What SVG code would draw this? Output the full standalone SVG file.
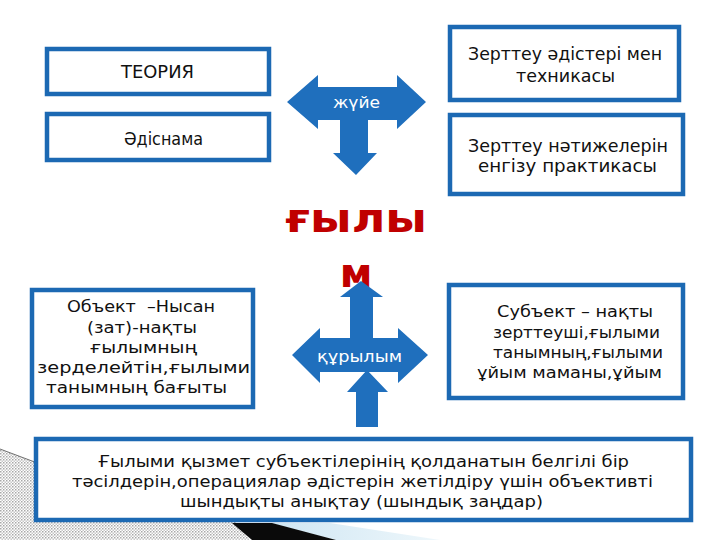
<svg xmlns="http://www.w3.org/2000/svg" width="720" height="540" viewBox="0 0 720 540">
<defs>
<pattern id="dots" width="3" height="3" patternUnits="userSpaceOnUse">
<rect width="3" height="3" fill="#ffffff"/>
<rect width="1.5" height="1.5" fill="#a8a8a8"/>
<rect x="1.5" y="1.5" width="1.5" height="1.5" fill="#c8c8c8"/>
</pattern>
<linearGradient id="lb" x1="0" y1="0" x2="1" y2="0">
<stop offset="0" stop-color="#cfe6f3"/>
<stop offset="1" stop-color="#eef7fb"/>
</linearGradient>
</defs>
<style>
.box{fill:#ffffff;stroke:#1c69b3;stroke-width:4.5}
.t{font-family:"DejaVu Sans","Verdana",sans-serif;fill:#111111}
.t16{font-size:17px}
.t15{font-size:16px}
.arrow{fill:#1f6fbd}
.al{font-family:"DejaVu Sans",sans-serif;fill:#ffffff;font-size:16px}
.red{font-family:"DejaVu Sans",sans-serif;font-weight:bold;fill:#c00000;font-size:40px}
</style>
<rect width="720" height="540" fill="#ffffff"/>
<g id="decor">
<polygon points="0,449 40,464 40,522 236,522 250,540 0,540" fill="url(#dots)"/>
<polyline points="0,449 40,464" fill="none" stroke="#707070" stroke-width="1"/>
<polygon points="270,523 330,523 440,540 335,540" fill="url(#lb)"/>
<polygon points="232,523 272,523 336,540 252,540" fill="#0a0a0a"/>
</g>
<g id="n-teoriya">
<rect class="box" x="47" y="49" width="222" height="45"/>
<text class="t t16" x="121" y="78" textLength="73" lengthAdjust="spacingAndGlyphs">ТЕОРИЯ</text>
</g>
<g id="n-adisnama">
<rect class="box" x="47" y="114" width="222" height="46"/>
<text class="t t16" x="124" y="145" textLength="79" lengthAdjust="spacingAndGlyphs">Әдіснама</text>
</g>
<g id="n-zerttey-adis">
<rect class="box" x="450" y="27" width="229" height="73"/>
<text class="t t16" x="468" y="60" textLength="194" lengthAdjust="spacingAndGlyphs">Зерттеу әдістері мен</text>
<text class="t t16" x="516" y="82" textLength="99" lengthAdjust="spacingAndGlyphs">техникасы</text>
</g>
<g id="n-zerttey-natije">
<rect class="box" x="450" y="115" width="233" height="79"/>
<text class="t t16" x="468" y="152" textLength="200" lengthAdjust="spacingAndGlyphs">Зерттеу нәтижелерін</text>
<text class="t t16" x="478" y="172" textLength="179" lengthAdjust="spacingAndGlyphs">енгізу практикасы</text>
</g>
<g id="n-obekt">
<rect class="box" x="32" y="290" width="221" height="117"/>
<text class="t t15" x="67" y="312" textLength="148" lengthAdjust="spacingAndGlyphs">Объект&#160; –Нысан</text>
<text class="t t15" x="87" y="333" textLength="110" lengthAdjust="spacingAndGlyphs">(зат)-нақты</text>
<text class="t t15" x="90" y="353" textLength="107" lengthAdjust="spacingAndGlyphs">ғылымның</text>
<text class="t t15" x="37" y="373" textLength="213" lengthAdjust="spacingAndGlyphs">зерделейтін,ғылыми</text>
<text class="t t15" x="46" y="393" textLength="181" lengthAdjust="spacingAndGlyphs">танымның бағыты</text>
</g>
<g id="n-subekt">
<rect class="box" x="449" y="285" width="234" height="113"/>
<text class="t t15" x="497" y="317" textLength="156" lengthAdjust="spacingAndGlyphs">Субъект – нақты</text>
<text class="t t15" x="493" y="338" textLength="167" lengthAdjust="spacingAndGlyphs">зерттеуші,ғылыми</text>
<text class="t t15" x="493" y="358" textLength="170" lengthAdjust="spacingAndGlyphs">танымның,ғылыми</text>
<text class="t t15" x="477" y="378" textLength="185" lengthAdjust="spacingAndGlyphs">ұйым маманы,ұйым</text>
</g>
<g id="n-bottom">
<rect class="box" x="36" y="439" width="655" height="81"/>
<text class="t t15" x="98" y="467" textLength="531" lengthAdjust="spacingAndGlyphs">Ғылыми қызмет субъектілерінің қолданатын белгілі бір</text>
<text class="t t15" x="72" y="487" textLength="581" lengthAdjust="spacingAndGlyphs">тәсілдерін,операциялар әдістерін жетілдіру үшін объективті</text>
<text class="t t15" x="180" y="507" textLength="363" lengthAdjust="spacingAndGlyphs">шындықты анықтау (шындық заңдар)</text>
</g>
<g id="n-gylym">
<text class="red" x="356" y="232" text-anchor="middle" textLength="142" lengthAdjust="spacingAndGlyphs">ғылы</text>
<text class="red" x="356" y="287" text-anchor="middle">м</text>
</g>
<g id="connectors">
<g id="c-zhuye">
<polygon class="arrow" points="287,102 318,75 318,87 397,87 397,75 426,102 397,129 397,120 368,120 368,153 377,153 356,175 333,153 340,153 340,120 318,120 318,129"/>
<text class="al" x="333" y="108" textLength="47" lengthAdjust="spacingAndGlyphs">жүйе</text>
</g>
<g id="c-qurylym">
<polygon class="arrow" points="292,355 320,328 320,338 350,338 350,297 340,297 361,281 383,297 373,297 373,338 398,338 398,328 428,355 398,383 398,372 320,372 320,383"/>
<polygon class="arrow" points="367,370 388,392 378,392 378,427 356,427 356,392 347,392"/>
<text class="al" x="317" y="362" textLength="85" lengthAdjust="spacingAndGlyphs">құрылым</text>
</g>
</g>
</svg>
